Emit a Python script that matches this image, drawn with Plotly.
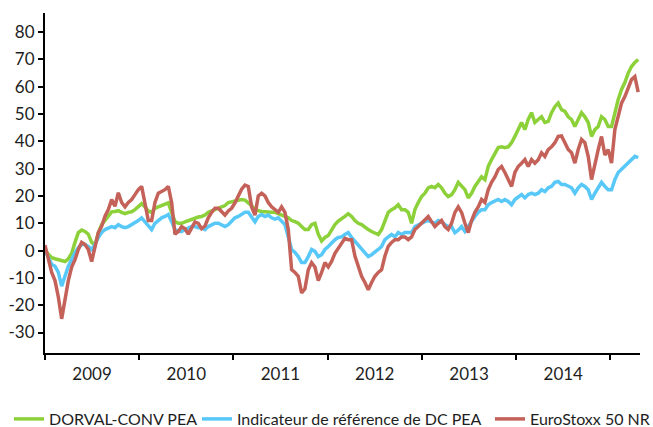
import pandas as pd
import plotly.graph_objects as go

# Series values (performance in %, rebased) at regular intervals
dorval = [0, -1.5, -2.6, -3, -3.3, -3.6, -4, -3, -1, 3, 6.6, 7.5, 7, 6, 3, 2, 6.5, 9.5, 11, 13,
          14.2, 14.3, 14.6, 14, 13.5, 14, 14.2, 15, 16.3, 17.2, 16,
          14.5, 14, 15.5, 16, 16.5, 17, 17.5, 14, 10.6, 10, 10, 10.5, 11, 11.5, 12, 12.3, 12.5, 13, 14,
          14.5, 15, 15.5, 16, 16.5, 17.6, 17.8, 18, 18.3, 18.7, 18.5, 17.6,
          16.5, 15, 14.5, 14.3, 14.2, 14, 14, 14, 13.6, 13.2, 12.5, 12, 11, 10.6, 10, 8.8, 7.7, 7.7, 9.5, 10,
          6, 3.5, 4.8, 5.5, 7.5, 9.5, 10.8, 11.5, 12.5, 13.5,
          12.5, 11, 10, 9.5, 8.4, 7.7, 7, 6.6, 5.9, 7.7, 11, 14, 15, 15.7, 16.8, 15, 15, 14, 10, 15,
          17.6, 19.8, 21, 23, 23.5, 23, 24.2, 23, 21, 19.8,
          20.5, 22.3, 25, 23.5, 22.3, 19.3, 21, 23.5, 25, 27, 26, 30.8, 33.3, 35.8, 37.7, 38, 37.7, 38, 39.5, 41.8,
          44.3, 46.9, 44.3, 48, 50.5, 46.9, 48, 49, 46.9, 47.3,
          50.5, 52.7, 54, 51.6, 51, 49, 48, 45.4, 48, 50.5, 49, 46.9, 41.8, 44.3, 45.4, 49, 48, 45.4, 45.4, 50.5,
          55.3, 59, 61.5, 65, 67.4, 68.9, 70]

indicateur = [0, -2.6, -5, -5.7, -8, -13, -9.4, -5.7, -3.3, -0.7, 1.1, 2.2, 2.2, 1.5, 0.4, 2.2, 4.8, 6.6, 7.7, 8.4,
              8.8, 8.4, 9.5, 8.8, 8.4, 8.8, 9.5, 10, 11, 12, 10.5,
              8.8, 7.7, 10, 11, 12, 12.5, 13.2, 10.6, 7.7, 7, 7, 7.7, 8.4, 8.8, 8.8, 8.4, 8.4, 7.7, 8.8, 9.5,
              10, 10, 9.5, 8.8, 9.5, 10.6, 12, 12.5, 13.2, 14, 14,
              12.5, 10.5, 12.5, 13.2, 12.5, 13, 12, 11.5, 12, 10.6, 9.5, 5, 0.4, -0.7, -2.2, -4.4, -4.4, -2.2, 0.4, -0.3,
              -2.2, -1.5, 0.4, 1.5, 2.9, 4, 4.8, 5, 5.9, 6.6,
              4.8, 3.3, 2.2, 0.4, -0.7, -2.2, -1.5, -0.7, 0.4, 1.5, 4, 5, 5.9, 5, 6.6, 5.9, 6.6, 6.6, 6.6, 8.8,
              9.5, 10, 10.6, 11, 10.6, 10, 11, 10.6, 9.5, 8.8,
              8.8, 6.6, 7.5, 8.8, 7, 8.8, 11, 12.5, 14, 15, 15, 16.8, 17.6, 18, 18.7, 18, 18.7, 18, 16.8, 18.7,
              19.8, 20.5, 19.3, 20.5, 21, 20.5, 21, 22.3, 21.6, 23,
              23.5, 25, 25.3, 24.2, 24.2, 23.5, 23, 21, 23, 24.2, 23.5, 22.3, 18.7, 21, 23, 25, 23.5, 22.3, 22.3, 26,
              28.6, 29.7, 30.8, 32, 33.3, 34.5, 34]

eurostoxx = [2, -3, -8, -11, -17, -25, -17, -11, -6, -3.3, 0.4, 3, 2.2, 0.4, -4, 1.6, 6.6, 8.9, 12.6, 15,
             18.7, 16.2, 21.2, 17.6, 16, 17.6, 18.7, 20.5, 22.3, 23.5, 17,
             11, 11, 17.6, 21, 21.6, 22.3, 23.5, 17.6, 6, 7, 8.8, 8, 6, 8, 10.5, 10, 8, 9, 12, 14,
             15.5, 15.5, 14, 13, 14.5, 15.5, 17.5, 20, 22.5, 24, 23.5,
             16, 13, 20, 21, 20, 17.6, 16, 15, 14, 16, 14, 7.7, -7, -8, -9.4, -15.5, -14, -7, -4.4, -6,
             -11, -8, -4.4, -6, -4, -1, 1, 3, 4.5, 4,
             4, -2, -5.7, -9.4, -11.7, -14.3, -11.7, -9.4, -8, -7, -2, 1.5, 3, 4, 4, 5, 5, 4, 5, 7.7,
             8.8, 10, 11, 12.5, 10.6, 8.8, 10, 11, 8.8, 7.7,
             10, 14, 16, 14, 10, 6.6, 11, 14, 16, 18.7, 17.6, 22.3, 25, 27, 29.7, 30.8, 28.6, 26, 23.5, 28.6,
             30.8, 32, 33.3, 30.8, 33.3, 32, 33.3, 35.8, 34.5, 37,
             38, 39.5, 41.8, 42, 39.5, 37, 35.8, 32, 37, 40.7, 39.5, 34.5, 26, 32, 37, 41.8, 35, 37, 32, 44.3,
             49, 54, 56.4, 60, 62.6, 63.7, 58]

series_names = ["DORVAL-CONV PEA", "Indicateur de référence de DC PEA", "EuroStoxx 50 NR"]
series_values = [dorval, indicateur, eurostoxx]
series_colors = ["#8DD13A", "#58C8F8", "#C4625A"]

y_tick_values = [-30, -20, -10, 0, 10, 20, 30, 40, 50, 60, 70, 80]
y_tick_labels = ["-30", "-20", "-10", "0", "10", "20", "30", "40", "50", "60", "70", "80"]

start_date = "2009-01-01"
end_date = "2015-04-19"
dates = pd.date_range(start_date, end_date, periods=len(dorval))

font_family = "Lato, 'DejaVu Sans', sans-serif"
text_color = "#1e1e1e"

fig = go.Figure()
legend_ids = ["legend", "legend2", "legend3"]
for name, vals, col, lg in zip(series_names, series_values, series_colors, legend_ids):
    fig.add_trace(go.Scatter(x=dates, y=vals, mode="lines", name=name, showlegend=True,
                             line=dict(color=col, width=3.5), legend=lg))

W, H = 653, 427
ml, mr, mt, mb = 45, 13, 13, 74
pw = W - ml - mr
ph = H - mt - mb

def lx(px):
    return (px - ml) / pw

def ly(px):
    return (H - mb - px) / ph

legend_common = dict(orientation="h", xref="paper", yref="paper", yanchor="top", xanchor="left",
                     y=ly(402), bgcolor="rgba(0,0,0,0)", borderwidth=0,
                     font=dict(family=font_family, size=16, color=text_color), itemwidth=30)

fig.update_layout(
    width=W, height=H,
    showlegend=True,
    margin=dict(l=ml, r=mr, t=mt, b=mb, autoexpand=False),
    paper_bgcolor="white", plot_bgcolor="white",
    font=dict(family=font_family, size=17, color=text_color),
    legend=dict(x=lx(9), **legend_common),
    legend2=dict(x=lx(197), **legend_common),
    legend3=dict(x=lx(490), **legend_common),
    xaxis=dict(type="date", range=["2009-01-01", "2015-04-26"], dtick="M12", tick0="2009-01-01",
               ticklabelmode="period", tickformat="%Y", ticks="outside", ticklen=5, tickwidth=2,
               tickcolor="black", showline=True, linecolor="black", linewidth=2, showgrid=False,
               zeroline=False, tickfont=dict(family=font_family, size=17, color=text_color)),
    yaxis=dict(range=[-37.5, 87], tickvals=y_tick_values, ticktext=y_tick_labels, ticks="outside",
               ticklen=5, tickwidth=2, tickcolor="black", showline=True, linecolor="black", linewidth=2,
               showgrid=False, zeroline=False,
               tickfont=dict(family=font_family, size=17, color=text_color)),
)

fig.write_html("out.html", config={"displayModeBar": False},
               post_script="document.body.style.margin='0';")
